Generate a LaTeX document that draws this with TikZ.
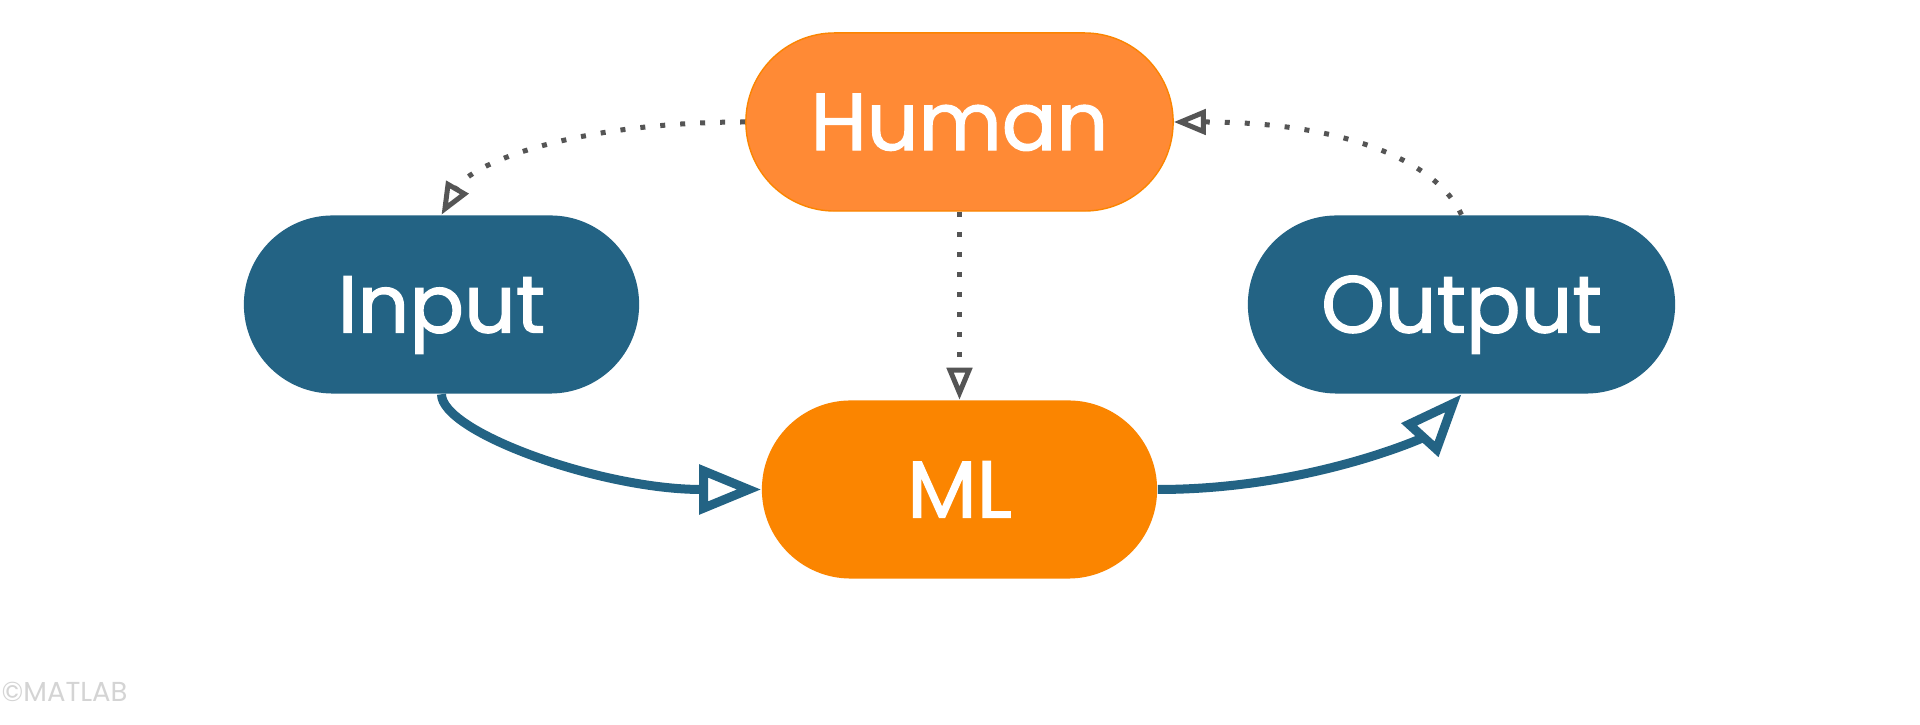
\documentclass[tikz,border=0pt]{standalone}
\usepackage{fontspec}
\setmainfont{Poppins}
\newfontfamily\popb{Poppins}[UprightFeatures={FakeBold=1.5}]
\usetikzlibrary{arrows.meta}
\definecolor{blueN}{HTML}{236384}
\definecolor{humanO}{HTML}{FF8A35}
\definecolor{mlO}{HTML}{FB8500}
\definecolor{dotG}{HTML}{555555}
\definecolor{wmG}{HTML}{D4D4D4}
\tikzset{
  pill/.style={rectangle, rounded corners=0.888cm, minimum height=1.78cm, inner sep=0pt,
    text=white, font=\popb\fontsize{23}{28}\selectfont, text height=16pt, text depth=0pt},
  blueline/.style={draw=blueN, line width=0.09cm,
    -{Triangle[open, length=0.62cm, width=0.48cm]}},
  dotline/.style={draw=dotG, line width=0.05cm, dash pattern=on 0.05cm off 0.15cm,
    -{Triangle[open, length=0.32cm, width=0.25cm]}},
}
\begin{document}
\begin{tikzpicture}[x=0.01cm,y=-0.01cm]
\useasboundingbox[fill=white] (0,0) rectangle (1920,725);
\node[pill, fill=humanO, draw=mlO, line width=0.4pt, minimum width=4.27cm] (human) at (959.5,122) {Human};
\node[pill, fill=blueN, minimum width=3.95cm] (input) at (441.5,304.5) {Input};
\node[pill, fill=blueN, minimum width=4.27cm] (output) at (1461.5,304.5) {Output};
\node[pill, fill=mlO, minimum width=3.95cm] (ml) at (959.5,489.5) {ML};
\draw[blueline] (input.south) .. controls +(0,38) and +(-160,0) .. (ml.west);
\draw[blueline] (ml.east) .. controls +(150,0) and +(-40,44) .. (output.south);
\draw[dotline] (human.west) .. controls +(-170,0) and +(30,-52) .. (input.north);
\draw[dotline] (output.north) .. controls +(-25,-54) and +(170,0) .. (human.east);
\draw[dotline] (human.south) -- (ml.north);
\node[anchor=west, inner sep=0pt, text=wmG, font=\fontsize{7.8}{9}\selectfont] (wm) at (1,692) {©MATLAB};
\end{tikzpicture}
\end{document}
